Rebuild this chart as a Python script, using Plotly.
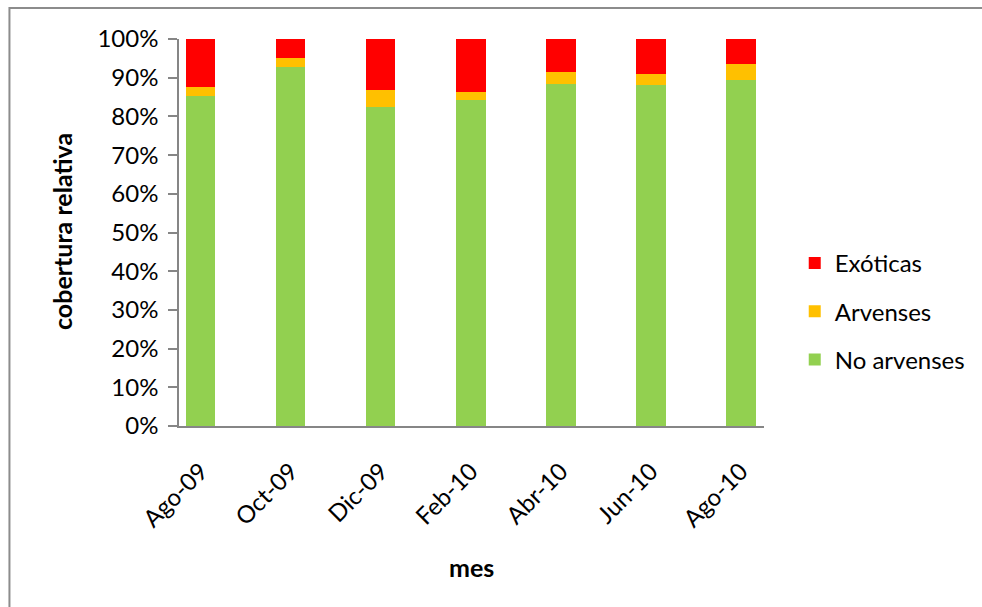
import plotly.graph_objects as go

# Relative cover (%) by sampling month
meses = ["Ago-09", "Oct-09", "Dic-09", "Feb-10", "Abr-10", "Jun-10", "Ago-10"]
no_arvenses = [85.2, 92.8, 82.5, 84.2, 88.5, 88.1, 89.5]
arvenses = [2.3, 2.3, 4.3, 2.0, 2.9, 2.8, 4.0]
exoticas = [12.5, 4.9, 13.2, 13.8, 8.6, 9.1, 6.5]

y_ticks = [0, 10, 20, 30, 40, 50, 60, 70, 80, 90, 100]
y_ticktext = [f"{v}%" for v in y_ticks]

FONT = "Lato, 'Open Sans', sans-serif"
AXIS_GREY = "#868686"

# Plot-area geometry in pixels (982 x 607 page)
W, H = 982, 607
L, R, T, B = 179, 769, 39, 426
pw, ph = R - L, B - T


def px_x(p):
    return (p - L) / pw


def px_y(p):
    return (B - p) / ph


x_range = [-0.242, 6.256]
boundaries = [i + x_range[0] for i in range(len(meses))]

fig = go.Figure()
series = [
    ("No arvenses", no_arvenses, "#92D050", 3),
    ("Arvenses", arvenses, "#FFC000", 2),
    ("Exóticas", exoticas, "#FF0000", 1),
]
for name, vals, color, rank in series:
    fig.add_trace(go.Bar(
        x=meses, y=vals, name=name, legendgroup=name, legendrank=rank,
        marker=dict(color=color, line=dict(width=0)),
    ))

fig.update_layout(
    width=W, height=H,
    barmode="stack", bargap=0.675,
    plot_bgcolor="white", paper_bgcolor="white",
    margin=dict(l=L, r=W - R, t=T, b=H - B, pad=0),
    font=dict(family=FONT, size=24, color="#000000"),
    showlegend=True,
    legend=dict(
        traceorder="grouped", tracegroupgap=14,
        x=px_x(800), y=px_y(241), xanchor="left", yanchor="top",
        font=dict(family=FONT, size=24, color="#000000"),
        bgcolor="rgba(0,0,0,0)", borderwidth=0,
    ),
    xaxis=dict(
        type="category", range=x_range, showgrid=False, zeroline=False,
        showline=True, linecolor=AXIS_GREY, linewidth=1.5,
        ticks="", tickangle=-45, ticklabelstandoff=20,
        tickfont=dict(family=FONT, size=24, color="#000000"),
    ),
    xaxis2=dict(
        overlaying="x", anchor="y", range=x_range, side="bottom",
        tickmode="array", tickvals=boundaries, showticklabels=False,
        ticks="outside", ticklen=8, tickwidth=1.5, tickcolor=AXIS_GREY,
        showgrid=False, zeroline=False, showline=False,
    ),
    yaxis=dict(
        range=[0, 100], tickmode="array", tickvals=y_ticks, ticktext=y_ticktext,
        showgrid=False, zeroline=False, showline=True, linecolor=AXIS_GREY,
        linewidth=1.5, ticks="outside", ticklen=9, tickwidth=1.5,
        tickcolor=AXIS_GREY, ticklabelstandoff=5,
        tickfont=dict(family=FONT, size=24, color="#000000"),
    ),
    annotations=[
        dict(text="<b>cobertura relativa</b>", textangle=-90,
             x=px_x(61), y=px_y(232), xref="paper", yref="paper",
             xanchor="center", yanchor="middle",
             showarrow=False, font=dict(family=FONT, size=25, color="#000000")),
        dict(text="<b>mes</b>",
             x=px_x(474), y=px_y(567), xref="paper", yref="paper",
             xanchor="center", yanchor="middle",
             showarrow=False, font=dict(family=FONT, size=25, color="#000000")),
    ],
    shapes=[
        dict(type="rect", xref="paper", yref="paper",
             x0=px_x(8), y0=px_y(640), x1=px_x(1010), y1=px_y(8),
             line=dict(color="#8C8C8C", width=2), fillcolor="rgba(0,0,0,0)",
             layer="below"),
    ],
)

fig.write_html("out.html")
